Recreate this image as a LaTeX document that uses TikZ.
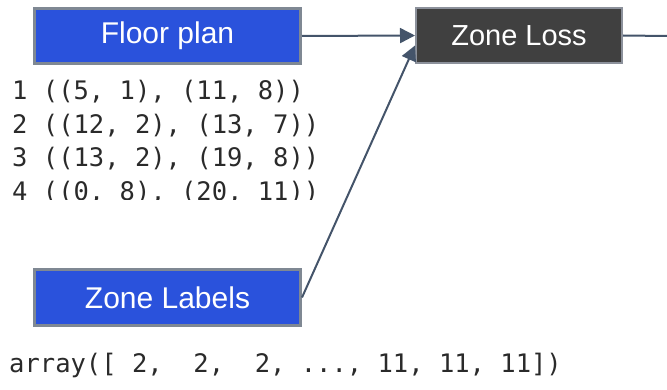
\documentclass[tikz,border=0pt]{standalone}
\usepackage{fontspec}
\setmainfont{Liberation Sans}
\newfontfamily\codefont{DejaVu Sans Mono}
\usetikzlibrary{arrows.meta}

\definecolor{boxblue}{HTML}{2A52DC}
\definecolor{boxedge}{HTML}{7F8893}
\definecolor{lossgray}{HTML}{404040}
\definecolor{lossedge}{HTML}{8C919B}
\definecolor{linkblue}{HTML}{44546A}
\definecolor{codegray}{HTML}{2A2A2A}

\tikzset{
  inbox/.style={draw=boxedge, fill=boxblue, line width=3pt, text=white,
    minimum width=266pt, minimum height=55pt, inner sep=0pt,
    font=\fontsize{30}{34}\selectfont},
  lossbox/.style={draw=lossedge, fill=lossgray, line width=2pt, text=white,
    minimum width=206pt, minimum height=55pt, inner sep=0pt,
    font=\fontsize{29}{34}\selectfont},
  codeline/.style={anchor=base west, inner sep=0pt, text=codegray,
    font=\codefont\fontsize{25.5}{30}\selectfont},
  link/.style={draw=linkblue, line width=2pt},
  arrow/.style={link, -{Triangle[length=15pt,width=15pt]}}
}

\begin{document}
\begin{tikzpicture}[x=1pt,y=-1pt]

\useasboundingbox (0,0) rectangle (667,390);

% input boxes
\node[inbox] (floor) at (167.5,36) {Floor plan};
\node[inbox] (labels) at (167.5,297.5) {Zone Labels};

% loss box
\node[lossbox] (loss) at (519,35.5) {Zone Loss};
\coordinate (out) at (667,36);

% floor plan zones
\node[codeline] (zone1) at (12,100) {1 ((5, 1), (11, 8))};
\node[codeline] (zone2) at (12,133.5) {2 ((12, 2), (13, 7))};
\node[codeline] (zone3) at (12,167) {3 ((13, 2), (19, 8))};
\begin{scope}
\clip (0,170) rectangle (340,200);
\node[codeline] (zone4) at (12,201) {4 ((0, 8), (20, 11))};
\end{scope}

% labels array
\node[codeline] (arr) at (9,372) {array([ 2,\ \ 2,\ \ 2, ..., 11, 11, 11])};

% connectors
\draw[arrow] (floor.east) -- (loss.west);
\draw[arrow] (labels.east) -- ([yshift=-10pt]loss.west);
\draw[link] (loss.east) -- (out);

\end{tikzpicture}
\end{document}
